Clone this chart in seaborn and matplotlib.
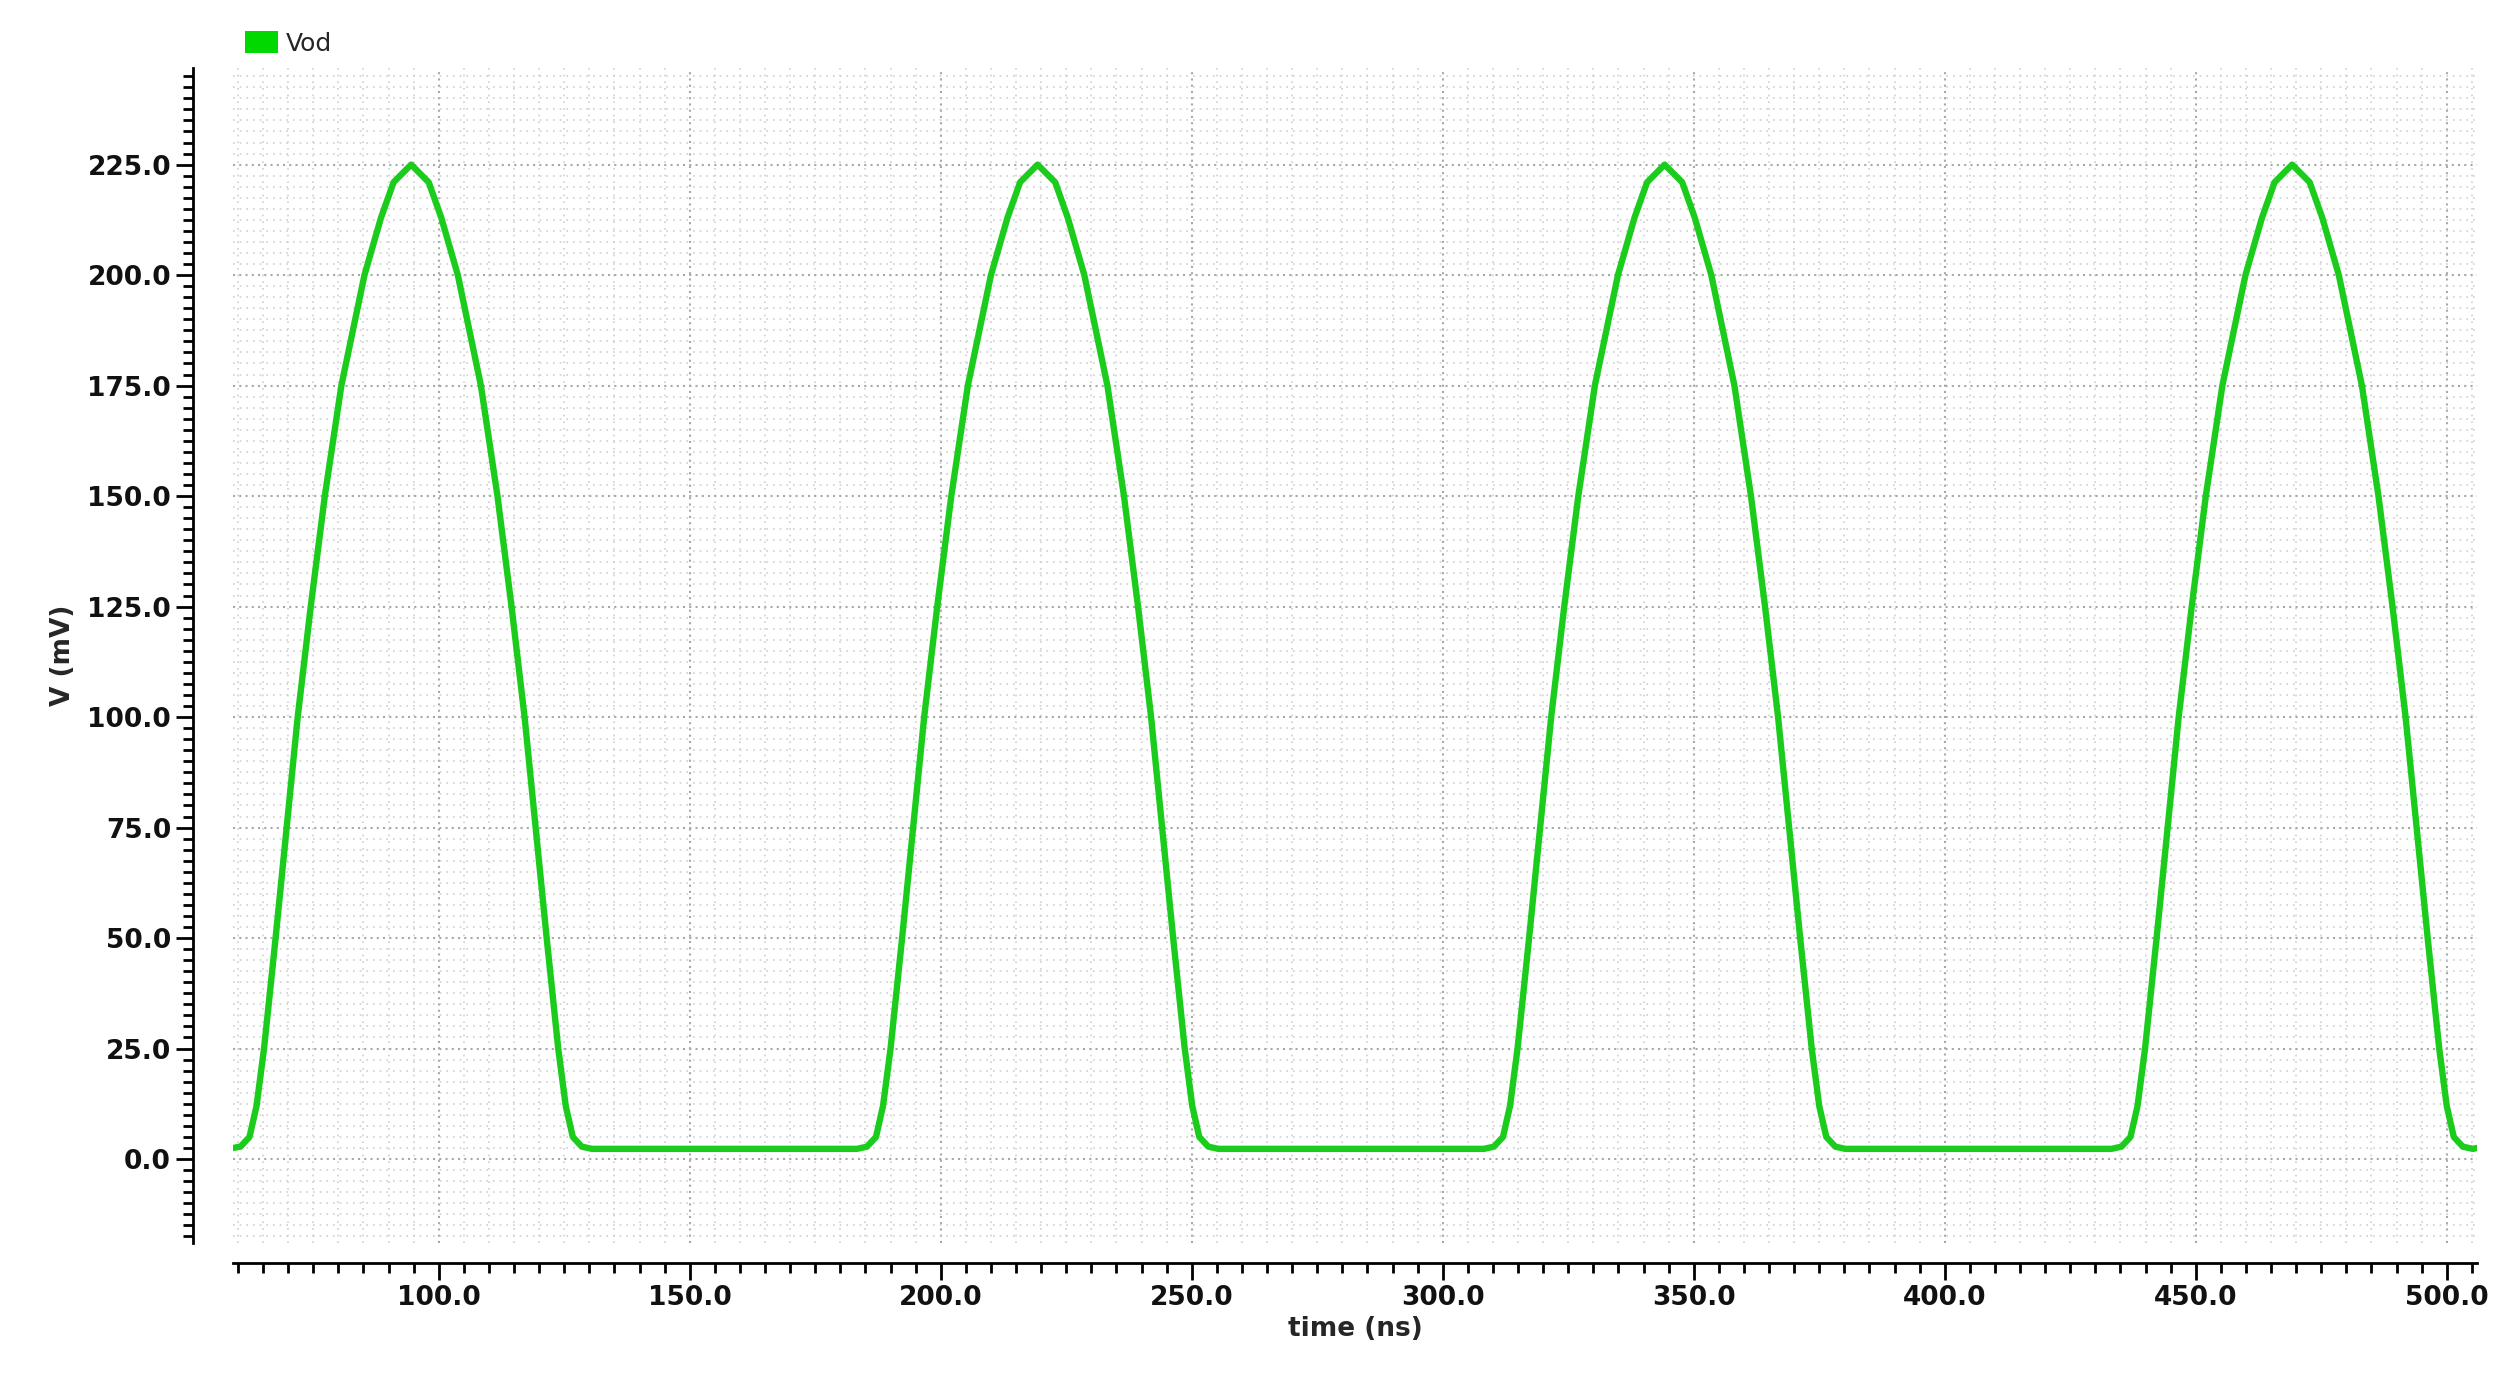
import numpy as np
import pandas as pd
import matplotlib
matplotlib.use("Agg")
import matplotlib.pyplot as plt
import seaborn as sns
from matplotlib.ticker import MultipleLocator, FormatStrFormatter
from matplotlib.patches import Patch

# ==========================================
# DATOS
# ==========================================
# picos de cada pulso (ns)
peak_times = [94.5, 219.3, 344.2, 469.2]
# forma de un pulso: desfase respecto al pico (ns) y tensión (mV)
pulse_offsets = [-36.0, -34.0, -32.2, -30.8, -29.3, -27.0, -24.8, -22.6, -20.0, -17.2, -13.9,
                 -9.3, -6.0, -3.5, 0.0, 3.5, 6.0, 9.3, 13.9, 17.2, 20.0, 22.6, 24.8,
                 27.0, 29.3, 30.8, 32.2, 34.0, 36.0]
pulse_values = [2.3, 2.8, 5.0, 12.0, 25.0, 50.0, 75.0, 100.0, 125.0, 150.0, 175.0,
                200.0, 213.0, 221.0, 225.0, 221.0, 213.0, 200.0, 175.0, 150.0, 125.0, 100.0, 75.0,
                50.0, 25.0, 12.0, 5.0, 2.8, 2.3]
t_start, v_start = 59.0, 2.5
t_end, v_end = 506.0, 2.5

rows = [(t_start, v_start)]
for p in peak_times:
    for d, v in zip(pulse_offsets, pulse_values):
        t = p + d
        if t_start < t < t_end:
            rows.append((t, v))
rows.append((t_end, v_end))
df = pd.DataFrame(rows, columns=["time", "Vod"])

# ==========================================
# ESTILO
# ==========================================
sns.set_theme(style="white")
plt.rcParams["font.family"] = ["DejaVu Sans"]

fig = plt.figure(figsize=(25.10, 13.93), dpi=100)
ax = fig.add_axes([0.0928, 0.108, 0.894, 0.843])

sns.lineplot(data=df, x="time", y="Vod", ax=ax, color="#1ccc1c", linewidth=4.6)

ax.set_xlim(59, 506)
ax.set_ylim(-18.9, 246.8)

ax.xaxis.set_major_locator(MultipleLocator(50))
ax.xaxis.set_minor_locator(MultipleLocator(5))
ax.yaxis.set_major_locator(MultipleLocator(25))
ax.yaxis.set_minor_locator(MultipleLocator(2.5))
ax.xaxis.set_major_formatter(FormatStrFormatter("%.1f"))
ax.yaxis.set_major_formatter(FormatStrFormatter("%.1f"))

ax.grid(which="major", linestyle=(0, (1, 2)), color="#a8a8a8", linewidth=1.5)
ax.grid(which="minor", linestyle=(0, (1, 3)), color="#d0d0d0", linewidth=1.2)

for s in ["top", "right"]:
    ax.spines[s].set_visible(False)
ax.spines["bottom"].set_position(("outward", 15))
ax.spines["left"].set_position(("outward", 29))
for s in ["bottom", "left"]:
    ax.spines[s].set_color("black")
    ax.spines[s].set_linewidth(2)

ax.tick_params(which="major", length=12, width=2, color="black", labelsize=19,
               labelcolor="#111111", bottom=True, left=True)
ax.tick_params(which="minor", length=7, width=2, color="black", bottom=True, left=True)
for lbl in ax.get_xticklabels() + ax.get_yticklabels():
    lbl.set_fontweight("bold")

ax.set_xlabel("time (ns)", fontsize=19, fontweight="bold", labelpad=4)
ax.set_ylabel("V (mV)", fontsize=19, fontweight="bold", labelpad=8)

ax.legend(handles=[Patch(facecolor="#00d800", edgecolor="none", label="Vod")],
          loc="lower left", bbox_to_anchor=(0.0, 1.0), frameon=False, fontsize=18,
          handlelength=1.3, handleheight=1.0, handletextpad=0.3, borderaxespad=0.1)

fig.savefig("out.png", dpi=100)
